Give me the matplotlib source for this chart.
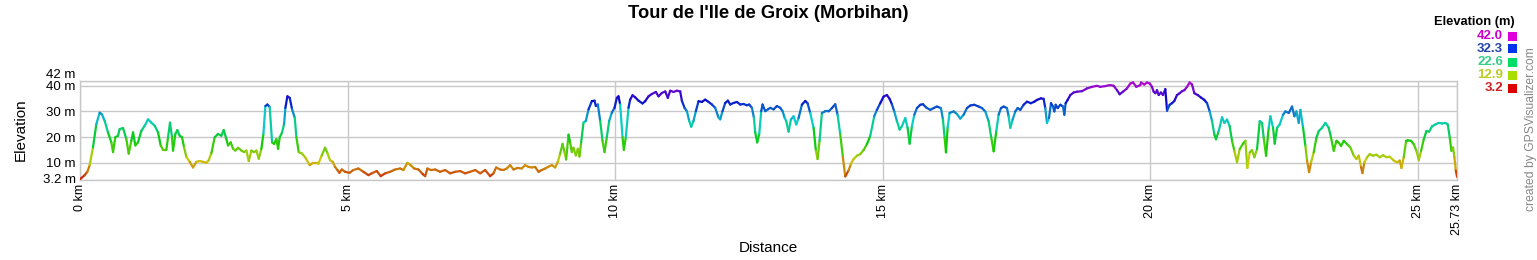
import numpy as np
import matplotlib
matplotlib.use("Agg")
import matplotlib.pyplot as plt
from matplotlib.collections import LineCollection
from matplotlib.colors import hsv_to_rgb
from matplotlib.patches import Rectangle

plt.rcParams['font.family'] = ['Liberation Sans', 'DejaVu Sans']

# profile: distance (km), elevation (m)
dist_km = [
    0.00, 0.087, 0.137, 0.181, 0.243, 0.305, 0.368, 0.411, 0.461, 0.523, 0.586, 0.617, 0.660, 0.710,
    0.741, 0.804, 0.866, 0.910, 0.960, 0.991, 1.034, 1.084, 1.146, 1.209, 1.271, 1.333, 1.396, 1.458,
    1.508, 1.551, 1.614, 1.645, 1.682, 1.720, 1.738, 1.782, 1.819, 1.863, 1.907, 1.944, 1.988, 2.050,
    2.112, 2.174, 2.237, 2.299, 2.361, 2.405, 2.455, 2.517, 2.579, 2.642, 2.685, 2.735, 2.766, 2.816,
    2.860, 2.903, 2.953, 3.016, 3.065, 3.109, 3.153, 3.202, 3.252, 3.296, 3.340, 3.389, 3.427, 3.464,
    3.502, 3.545, 3.589, 3.626, 3.670, 3.701, 3.732, 3.776, 3.813, 3.838, 3.875, 3.919, 3.963, 4.012,
    4.044, 4.087, 4.150, 4.212, 4.293, 4.355, 4.436,
    4.455, 4.517, 4.579, 4.623, 4.673, 4.723, 4.766, 4.810, 4.847, 4.891, 4.953, 5.034, 5.109, 5.202,
    5.296, 5.389, 5.452, 5.545, 5.620, 5.701, 5.794, 5.888, 5.981, 6.044, 6.118, 6.168, 6.243, 6.324,
    6.405, 6.449, 6.492, 6.555, 6.636, 6.729, 6.822, 6.916, 7.009, 7.103, 7.196, 7.290, 7.383, 7.477,
    7.570, 7.664, 7.726, 7.776, 7.850, 7.913, 7.975, 8.037, 8.100, 8.174, 8.255, 8.318, 8.380, 8.442,
    8.505, 8.567, 8.629, 8.692, 8.773,
    8.816, 8.879, 8.928, 8.972, 9.016, 9.053, 9.084, 9.128, 9.159, 9.190, 9.221, 9.265, 9.302, 9.333,
    9.364, 9.408, 9.452, 9.502, 9.564, 9.614, 9.639, 9.676, 9.720, 9.763, 9.801, 9.844, 9.888, 9.938,
    9.988, 10.031, 10.062, 10.093, 10.137, 10.162, 10.199, 10.249, 10.280, 10.324, 10.374, 10.436,
    10.511, 10.561, 10.623, 10.685, 10.760, 10.810, 10.872, 10.935, 10.984, 11.028, 11.090, 11.153,
    11.215, 11.246, 11.296, 11.340, 11.383, 11.421, 11.464, 11.508, 11.558, 11.620, 11.682, 11.745,
    11.807, 11.869, 11.931, 11.963, 12.006, 12.056, 12.106, 12.150, 12.212, 12.274, 12.336, 12.399,
    12.461, 12.505, 12.555, 12.592, 12.617, 12.654, 12.692, 12.729, 12.754, 12.804, 12.854, 12.897,
    12.960, 13.022, 13.084, 13.128, 13.165,
    13.196, 13.240, 13.283, 13.333, 13.383, 13.427, 13.489, 13.551, 13.595, 13.645, 13.707, 13.751,
    13.782, 13.819, 13.863, 13.925, 13.988, 14.050, 14.112, 14.156, 14.206, 14.255, 14.299, 14.361,
    14.405, 14.455, 14.517, 14.579, 14.642, 14.704, 14.766, 14.841, 14.891, 14.953, 15.016, 15.078,
    15.128, 15.171, 15.215, 15.265, 15.315, 15.358, 15.421, 15.464, 15.502, 15.545, 15.589, 15.639,
    15.701, 15.751, 15.813, 15.888, 15.950, 16.012, 16.087, 16.125, 16.156, 16.181, 16.212, 16.249,
    16.324, 16.386, 16.449, 16.511, 16.573, 16.636, 16.710, 16.791, 16.854, 16.916, 16.978, 17.028,
    17.072, 17.122, 17.165, 17.209, 17.259, 17.321, 17.352, 17.383, 17.427, 17.477, 17.520, 17.570,
    17.632, 17.695, 17.769, 17.832, 17.882, 17.956, 18.006, 18.037, 18.069, 18.106, 18.143, 18.181,
    18.206, 18.231, 18.268, 18.318, 18.368, 18.393, 18.417, 18.455, 18.505, 18.567, 18.629, 18.723,
    18.816, 18.910, 19.003, 19.065, 19.159, 19.252, 19.315, 19.377, 19.427, 19.489, 19.564, 19.626,
    19.676, 19.738, 19.813,
    19.826, 19.888, 19.938, 19.988, 20.031, 20.062, 20.093, 20.125, 20.156, 20.199, 20.237, 20.280,
    20.312, 20.361, 20.405, 20.449, 20.498, 20.548, 20.592, 20.636, 20.685, 20.735, 20.779, 20.822,
    20.885, 20.947, 21.009, 21.059, 21.109, 21.153, 21.196, 21.227, 21.277, 21.340, 21.383, 21.433,
    21.483, 21.526, 21.570, 21.620, 21.670, 21.732, 21.776, 21.813, 21.857, 21.900, 21.944, 21.994,
    22.044, 22.087, 22.118, 22.162, 22.212, 22.243, 22.293, 22.324, 22.368, 22.417, 22.480, 22.523,
    22.586, 22.648, 22.692, 22.729, 22.773, 22.804, 22.854, 22.897, 22.928, 22.966, 23.003, 23.053,
    23.103, 23.146, 23.209, 23.271, 23.333, 23.377, 23.427, 23.477, 23.520, 23.564, 23.614, 23.676,
    23.738, 23.801, 23.850, 23.894, 23.938, 23.963, 24.000, 24.050, 24.100, 24.162, 24.224, 24.287,
    24.349, 24.411, 24.474, 24.548, 24.611, 24.660, 24.692, 24.735, 24.779, 24.810, 24.872, 24.922,
    24.972, 25.016, 25.059, 25.109, 25.159, 25.209, 25.265, 25.327, 25.389, 25.452, 25.514, 25.558,
    25.595, 25.626, 25.657, 25.682, 25.707, 25.732,
]
elev_m = [
    3.5, 5.1, 6.4, 9.0, 16.0, 25.0, 29.5, 28.8, 26.3, 21.8, 17.9, 14.1, 19.9, 20.5,
    23.1, 23.5, 19.2, 13.5, 18.6, 21.8, 16.7, 17.9, 22.4, 24.4, 26.9, 25.6, 24.4, 21.8,
    16.7, 15.0, 15.0, 19.9, 25.6, 19.9, 14.7, 21.2, 22.7, 20.5, 19.9, 16.0, 12.2, 10.3,
    8.1, 10.3, 10.6, 10.3, 9.9, 10.9, 13.7, 19.9, 21.2, 20.5, 22.7, 19.2, 16.7, 17.9,
    15.4, 14.7, 15.8, 14.7, 14.1, 14.7, 10.6, 14.7, 14.1, 14.7, 11.5, 15.4, 21.2, 32.1,
    32.7, 31.7, 17.9, 17.3, 19.2, 15.4, 19.9, 21.8, 25.0, 31.4, 35.9, 35.3, 30.8, 27.6,
    19.9, 14.1, 13.5, 11.9, 9.0, 9.9, 9.9,
    9.6, 12.8, 15.8, 13.7, 10.9, 10.3, 8.3, 7.1, 6.0, 7.3, 6.4, 6.0, 7.1, 7.7,
    6.4, 5.1, 5.8, 6.7, 4.7, 5.8, 6.4, 7.3, 7.7, 7.1, 9.9, 9.2, 7.7, 7.3,
    5.5, 4.7, 7.7, 7.1, 7.3, 6.4, 7.1, 5.8, 6.4, 6.7, 5.8, 6.4, 7.1, 5.8,
    7.1, 4.7, 5.8, 8.1, 7.3, 7.1, 7.7, 9.0, 7.3, 7.9, 7.7, 9.0, 8.3, 8.1,
    8.3, 6.4, 7.1, 7.7, 8.6,
    9.0, 8.1, 10.3, 13.5, 17.3, 14.1, 11.2, 20.9, 17.9, 14.1, 15.8, 12.8, 15.4, 12.4,
    17.9, 25.6, 26.3, 30.8, 34.0, 34.2, 32.1, 32.7, 26.3, 18.6, 14.1, 19.9, 26.3, 29.5,
    31.4, 35.3, 35.9, 32.7, 19.9, 15.0, 19.9, 31.4, 34.6, 36.3, 35.5, 34.2,
    33.1, 34.0, 35.9, 36.8, 37.6, 35.9, 37.2, 37.8, 35.3, 38.1, 37.6, 38.1,
    37.8, 34.2, 31.4, 30.1, 26.3, 24.0, 26.3, 30.1, 34.0, 33.7, 34.6, 33.7,
    32.7, 31.4, 27.6, 26.9, 30.1, 33.3, 34.2, 32.7, 33.3, 33.7, 32.7, 32.9,
    32.4, 32.7, 31.4, 27.6, 21.8, 17.9, 21.2, 30.1, 32.7, 30.1, 30.8, 31.4,
    30.8, 32.1, 31.4, 30.1, 27.6,
    26.2, 22.1, 26.8, 28.1, 24.9, 27.4, 32.6, 34.1, 33.2, 29.4, 23.6, 14.6,
    11.4, 18.5, 29.4, 30.0, 30.0, 31.3, 32.8, 28.7, 21.0, 12.1, 4.6, 6.9,
    9.5, 11.4, 12.7, 13.3, 14.9, 17.2, 20.4, 28.1, 30.6, 33.2, 35.8, 36.4,
    34.9, 32.8, 30.0, 26.2, 22.9, 24.2, 27.4, 23.6, 17.4, 24.2, 28.7, 31.3,
    32.6, 32.8, 31.5, 30.6, 31.3, 31.9, 31.3, 26.8, 19.7, 14.0, 23.6, 29.4,
    30.0, 29.0, 27.2, 28.7, 31.3, 32.3, 32.6, 31.9, 31.3, 30.0, 26.2, 19.7,
    14.4, 22.3, 28.7, 31.3, 31.9, 31.3, 28.1, 23.6, 26.8, 30.0, 31.3, 30.6,
    32.6, 33.8, 33.2, 33.8, 34.5, 35.1, 34.9, 31.3, 25.5, 27.4, 33.2, 31.9,
    30.0, 32.6, 31.3, 32.6, 31.9, 28.7, 33.2, 34.5, 36.4, 37.4, 37.7, 37.9,
    39.0, 39.6, 40.0, 39.6, 39.9, 40.3, 40.0, 38.3, 36.7, 37.7, 39.0, 40.9,
    41.3, 39.6, 40.3,
    41.3, 40.5, 41.3, 40.9, 39.6, 37.7, 37.1, 38.3, 36.4, 37.4, 36.4, 38.7,
    30.3, 32.6, 33.2, 34.1, 36.4, 37.1, 37.9, 38.3, 39.6, 41.3, 40.5, 37.1,
    36.4, 35.4, 34.5, 33.2, 30.0, 26.2, 21.0, 19.1, 22.3, 27.7, 25.5, 26.8,
    24.2, 18.5, 14.6, 10.1, 15.3, 17.4, 18.5, 7.9, 14.0, 14.9, 12.1, 15.3,
    26.2, 25.5, 19.7, 12.7, 23.6, 28.1, 23.6, 17.4, 23.6, 24.9, 28.7, 30.0,
    29.4, 31.9, 28.1, 30.0, 25.5, 30.6, 23.6, 16.5, 10.8, 6.3, 10.1, 14.0,
    19.7, 22.3, 23.6, 25.5, 23.6, 19.7, 14.6, 18.5, 17.8, 16.5, 18.5, 17.2,
    15.9, 12.7, 11.4, 12.7, 8.2, 5.9, 10.1, 12.1, 13.3, 12.7, 13.1, 12.1,
    12.9, 12.1, 12.3, 10.8, 10.1, 10.8, 7.9, 12.1, 18.5, 18.7, 18.5, 17.2,
    14.6, 11.0, 14.6, 19.1, 22.3, 22.1, 24.2, 24.9, 25.5, 25.3, 25.5, 24.9,
    19.7, 14.6, 15.9, 12.1, 6.9, 4.4,
]

e_min, e_max = 3.2, 42.0
x_ticks = [0, 5, 10, 15, 20, 25, 25.73]
x_labels = ["0 km", "5 km", "10 km", "15 km", "20 km", "25 km", "25.73 km"]
y_ticks = [3.2, 10, 20, 30, 40, 42]
y_labels = ["3.2 m", "10 m", "20 m", "30 m", "40 m", "42 m"]

legend_values = ["42.0", "32.3", "22.6", "12.9", "3.2"]
legend_text_colors = ["#cc00cc", "#2244aa", "#33cc88", "#bbcc22", "#cc2222"]
legend_box_colors = ["#dd00dd", "#0033ee", "#00dd66", "#aadd00", "#dd0000"]


def elev_color(e, v=0.8):
    # red -> yellow -> green -> blue -> magenta
    t = np.clip((e - e_min) / (e_max - e_min), 0, 1)
    return hsv_to_rgb([t * 300 / 360, 0.95, v])


W, H = 1537, 260
fig = plt.figure(figsize=(W / 100, H / 100), dpi=100)
ax = fig.add_axes([80 / W, 1 - 180 / H, (1457 - 80) / W, (180 - 80.7) / H])

x = np.array(dist_km)
y = np.array(elev_m)
pts = np.column_stack([x, y]).reshape(-1, 1, 2)
segs = np.concatenate([pts[:-1], pts[1:]], axis=1)
cols = [elev_color((a + b) / 2) for a, b in zip(y[:-1], y[1:])]
lc = LineCollection(segs, colors=cols, linewidths=1.6, capstyle='round', joinstyle='round', zorder=3)
ax.add_collection(lc)

ax.set_xlim(0, 25.73)
ax.set_ylim(e_min, e_max)
ax.set_xticks(x_ticks)
ax.set_xticklabels(x_labels, rotation=90, fontsize=9, va='top')
ax.set_yticks(y_ticks)
ax.set_yticklabels(y_labels, fontsize=9.5)
# the top label sits just above its line, as in the original
ax.get_yticklabels()[-1].set_va('bottom')
ax.get_yticklabels()[0].set_va('center')
ax.tick_params(length=0, pad=3)
ax.grid(True, color='#c8c8c8', linewidth=1)
for s in ax.spines.values():
    s.set_color('#c8c8c8')
    s.set_linewidth(1)

fig.text(768 / W, 1 - 14 / H, "Tour de l'Ile de Groix (Morbihan)", ha='center', va='center',
         fontsize=13.2, fontweight='bold')
fig.text(21 / W, 1 - 130 / H, "Elevation", rotation=90, ha='center', va='center', fontsize=11)
fig.text(768 / W, 1 - 248 / H, "Distance", ha='center', va='center', fontsize=11)

# legend
fig.text(1515 / W, 1 - 22 / H, "Elevation (m)", ha='right', va='center', fontsize=9.3, fontweight='bold')
for i, (val, tc, bc) in enumerate(zip(legend_values, legend_text_colors, legend_box_colors)):
    yc = 36 + i * 13
    fig.text(1503 / W, 1 - yc / H, val, ha='right', va='center', fontsize=9.5, color=tc, fontweight='bold')
    fig.add_artist(Rectangle((1508 / W, 1 - (yc + 4.5) / H), 9 / W, 9 / H,
                             transform=fig.transFigure, facecolor=bc, edgecolor='none'))

fig.text(1531 / W, 1 - 129 / H, "created by GPSVisualizer.com", rotation=90, ha='center', va='center',
         fontsize=8.7, color='#888888')

fig.savefig("out.png", dpi=100)
